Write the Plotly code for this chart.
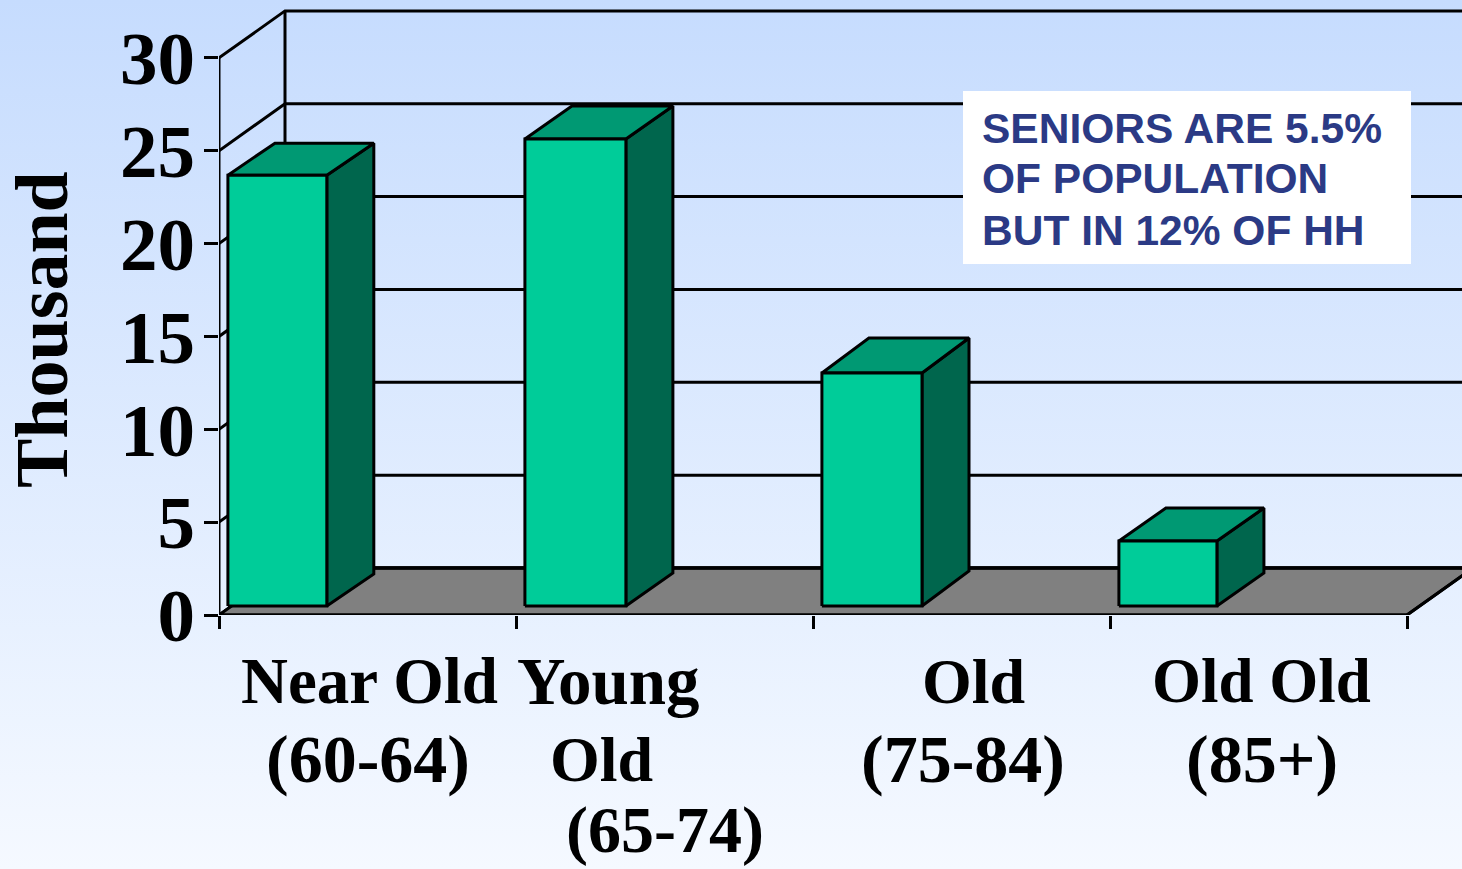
import plotly.graph_objects as go

# Data
categories = ["Near Old (60-64)", "Young Old (65-74)", "Old (75-84)", "Old Old (85+)"]
values = [23.2, 25.15, 12.55, 3.5]
bar_left = [0.03, 1.03, 2.03, 3.03]
bar_width = [0.333, 0.34, 0.337, 0.33]
bar_depth_px = [32, 33, 35, 33]
y_ticks = [0, 5, 10, 15, 20, 25, 30]
x_ticks = [0, 1, 2, 3, 4]
note_lines = ["SENIORS ARE 5.5%", "OF POPULATION", "BUT IN 12% OF HH"]

# Style / layout constants
W, H = 1462, 869
PX_X, PX_Y = 297.0, 18.57
WALL_DX, WALL_DY = 66 / PX_X, 47 / PX_Y
BAR_DX = 47 / PX_X
BAR_BASE = 9 / PX_Y
X_END = 4.3
BLACK = "#000000"
LW = 3
SERIF = "Liberation Serif"
SANS = "Liberation Sans"
NAVY = "#2b3a85"

fig = go.Figure()

# page gradient on hidden full-page axes
fig.add_trace(go.Scatter(
    x=[0, W, W, 0, 0], y=[0, 0, H, H, 0], mode="lines", line=dict(width=0),
    fill="toself",
    fillgradient=dict(type="vertical", start=0, stop=H,
                      colorscale=[[0, "#c6dcfe"], [1, "#f5f9ff"]]),
    hoverinfo="skip", showlegend=False, xaxis="x", yaxis="y"))


def add(xs, ys, fill=None, width=LW, color=BLACK):
    fig.add_trace(go.Scatter(
        x=xs, y=ys, mode="lines",
        line=dict(color=color, width=width),
        fill="toself" if fill else None, fillcolor=fill,
        hoverinfo="skip", showlegend=False, cliponaxis=False,
        xaxis="x2", yaxis="y2"))


# back wall grid and side wall diagonals
for v in y_ticks:
    add([0, WALL_DX, X_END], [v, v + WALL_DY, v + WALL_DY])
add([WALL_DX, WALL_DX], [WALL_DY, y_ticks[-1] + WALL_DY])

# floor
floor_right = x_ticks[-1] + WALL_DX
add([0, WALL_DX, floor_right, x_ticks[-1], 0],
    [0, WALL_DY, WALL_DY, 0, 0], fill="#808080")
add([WALL_DX, X_END], [WALL_DY, WALL_DY], width=3.6)
add([x_ticks[-1], floor_right], [0, WALL_DY])

# left axis and front floor edge
add([0, 0], [0, y_ticks[-1]], width=3)
add([0, x_ticks[-1]], [0, 0], width=3)

# bars
for left, w, v, d in zip(bar_left, bar_width, values, bar_depth_px):
    right = left + w
    top = BAR_BASE + v
    dy = d / PX_Y
    add([right, right + BAR_DX, right + BAR_DX, right, right],
        [BAR_BASE, BAR_BASE + dy, top + dy, top, BAR_BASE], fill="#00664d")
    add([left, left + BAR_DX, right + BAR_DX, right, left],
        [top, top + dy, top + dy, top, top], fill="#009973")
    add([left, right, right, left, left],
        [BAR_BASE, BAR_BASE, top, top, BAR_BASE], fill="#00cc99")

# Category labels, one line at a time
cat_lines = [
    ("Near Old", 369, 681, 65), ("(60-64)", 368, 759, 68),
    ("Young", 608, 681, 67), ("Old", 601, 759, 64), ("(65-74)", 665, 830, 66),
    ("Old", 973, 681, 64), ("(75-84)", 963, 759, 68),
    ("Old Old", 1261, 681, 63), ("(85+)", 1262, 759, 68),
]
annotations = []
for text, px, py, size in cat_lines:
    annotations.append(dict(
        x=px, y=py, xref="x", yref="y", text=text, showarrow=False,
        xanchor="center", yanchor="middle",
        font=dict(family=SERIF, size=size, color=BLACK, weight="bold")))

annotations.append(dict(
    x=42, y=330, xref="x", yref="y", text="Thousand", showarrow=False,
    textangle=-90, xanchor="center", yanchor="middle",
    font=dict(family=SERIF, size=74, color=BLACK, weight="bold")))

for line, py in zip(note_lines, [128, 178, 230]):
    annotations.append(dict(
        x=980, y=py, xref="x", yref="y", text=line, showarrow=False,
        xanchor="left", yanchor="middle",
        font=dict(family=SANS, size=42.5, color=NAVY, weight="bold")))

fig.update_layout(
    width=W, height=H,
    autosize=False,
    margin=dict(l=0, r=0, t=0, b=0, autoexpand=False),
    paper_bgcolor="#ffffff",
    plot_bgcolor="rgba(0,0,0,0)",
    showlegend=False,
    xaxis=dict(domain=[0, 1], range=[0, W], visible=False),
    yaxis=dict(domain=[0, 1], range=[H, 0], visible=False),
    xaxis2=dict(domain=[219 / W, 1], range=[0, (W - 219) / PX_X], anchor="y2",
                tickmode="array", tickvals=x_ticks, ticktext=["" for _ in x_ticks],
                ticks="outside", ticklen=13, tickwidth=3, tickcolor=BLACK,
                showgrid=False, zeroline=False, showline=False),
    yaxis2=dict(domain=[(H - 615) / H, (H - 5) / H], range=[0, 610 / PX_Y], anchor="x2",
                tickmode="array", tickvals=y_ticks, ticktext=[str(v) for v in y_ticks],
                ticks="outside", ticklen=14, tickwidth=3, tickcolor=BLACK,
                ticklabelstandoff=-6,
                tickfont=dict(family=SERIF, size=75, color=BLACK, weight="bold"),
                showgrid=False, zeroline=False, showline=False),
    shapes=[dict(type="rect", xref="x", yref="y", x0=963, x1=1411, y0=91, y1=264,
                 fillcolor="#ffffff", line=dict(width=0), layer="above")],
    annotations=annotations,
)

fig.write_html(
    "out.html",
    config={"displayModeBar": False},
    post_script="document.body.style.margin='0';document.documentElement.style.overflow='hidden';",
)
